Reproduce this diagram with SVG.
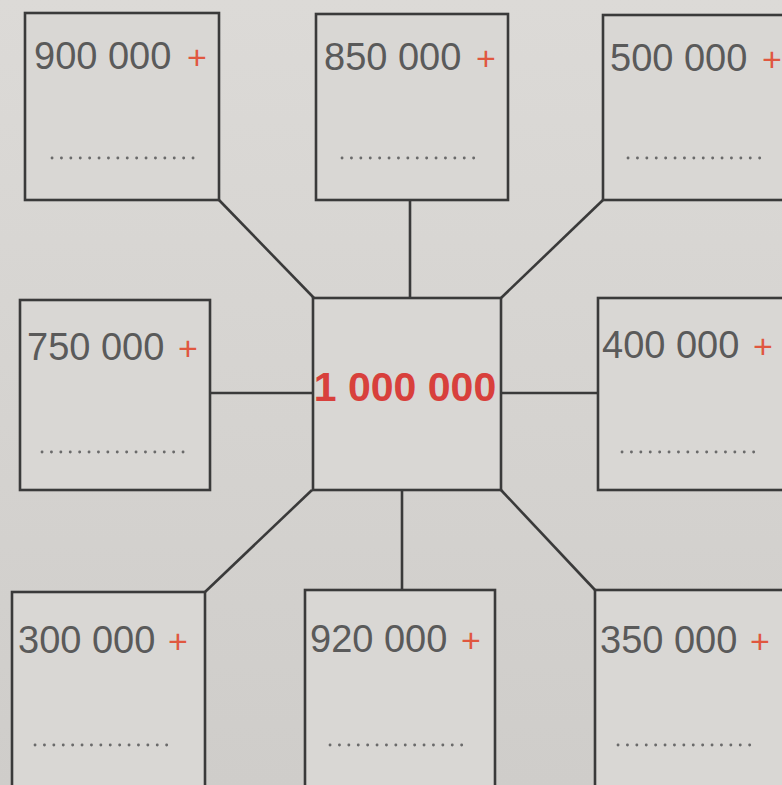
<svg xmlns="http://www.w3.org/2000/svg" width="782" height="785" viewBox="0 0 782 785">
<defs>
<linearGradient id="bg" x1="0" y1="0" x2="0" y2="1">
<stop offset="0" stop-color="#dcdad7"/>
<stop offset="1" stop-color="#cfcdca"/>
</linearGradient>
</defs>
<style>
.box{fill:#d9d7d4;stroke:#3a3a3a;stroke-width:2.6}
.num{font-family:"Liberation Sans",Arial,sans-serif;font-size:38px;fill:#5a5a5a}
.plus{fill:#e0573f;font-size:34px}
.dots{stroke:#6a6a6a;stroke-width:2.8;stroke-dasharray:0.1 9.3;stroke-linecap:round;fill:none}
.conn{stroke:#3a3a3a;stroke-width:2.6;fill:none}
.center{font-family:"Liberation Sans",Arial,sans-serif;font-size:41px;font-weight:bold;fill:#d8403c}
</style>
<rect x="0" y="0" width="782" height="785" fill="url(#bg)"/>
<g id="connectors">
<line class="conn" x1="219" y1="200" x2="314" y2="298"/>
<line class="conn" x1="410" y1="200" x2="410" y2="298"/>
<line class="conn" x1="603" y1="200" x2="501" y2="298"/>
<line class="conn" x1="210" y1="393" x2="313" y2="393"/>
<line class="conn" x1="501" y1="393" x2="598" y2="393"/>
<line class="conn" x1="205" y1="592" x2="312" y2="490"/>
<line class="conn" x1="402" y1="490" x2="402" y2="590"/>
<line class="conn" x1="501" y1="490" x2="595" y2="590"/>
</g>
<g id="n900">
<rect class="box" x="25" y="13" width="194" height="187"/>
<text class="num" x="34" y="69">900 000 <tspan class="plus" dx="5">+</tspan></text>
<line class="dots" x1="52" y1="158" x2="194" y2="158"/>
</g>
<g id="n850">
<rect class="box" x="316" y="14" width="192" height="186"/>
<text class="num" x="324" y="70">850 000 <tspan class="plus" dx="4">+</tspan></text>
<line class="dots" x1="342" y1="158" x2="482" y2="158"/>
</g>
<g id="n500">
<rect class="box" x="603" y="15" width="190" height="185"/>
<text class="num" x="610" y="71">500 000 <tspan class="plus" dx="4">+</tspan></text>
<line class="dots" x1="628" y1="158" x2="764" y2="158"/>
</g>
<g id="n750">
<rect class="box" x="20" y="300" width="190" height="190"/>
<text class="num" x="27" y="360">750 000 <tspan class="plus" dx="3">+</tspan></text>
<line class="dots" x1="42" y1="452" x2="184" y2="452"/>
</g>
<g id="center">
<rect class="box" x="313" y="298" width="188" height="192"/>
<text class="center" x="405" y="401" text-anchor="middle">1 000 000</text>
</g>
<g id="n400">
<rect class="box" x="598" y="298" width="195" height="192"/>
<text class="num" x="602" y="358">400 000 <tspan class="plus" dx="3">+</tspan></text>
<line class="dots" x1="622" y1="452" x2="758" y2="452"/>
</g>
<g id="n300">
<rect class="box" x="12" y="592" width="193" height="200"/>
<text class="num" x="18" y="653">300 000 <tspan class="plus" dx="2">+</tspan></text>
<line class="dots" x1="35" y1="745" x2="176" y2="745"/>
</g>
<g id="n920">
<rect class="box" x="305" y="590" width="190" height="202"/>
<text class="num" x="310" y="652">920 000 <tspan class="plus" dx="3">+</tspan></text>
<line class="dots" x1="330" y1="745" x2="470" y2="745"/>
</g>
<g id="n350">
<rect class="box" x="595" y="590" width="198" height="202"/>
<text class="num" x="600" y="653">350 000 <tspan class="plus" dx="2">+</tspan></text>
<line class="dots" x1="618" y1="745" x2="754" y2="745"/>
</g>
</svg>
